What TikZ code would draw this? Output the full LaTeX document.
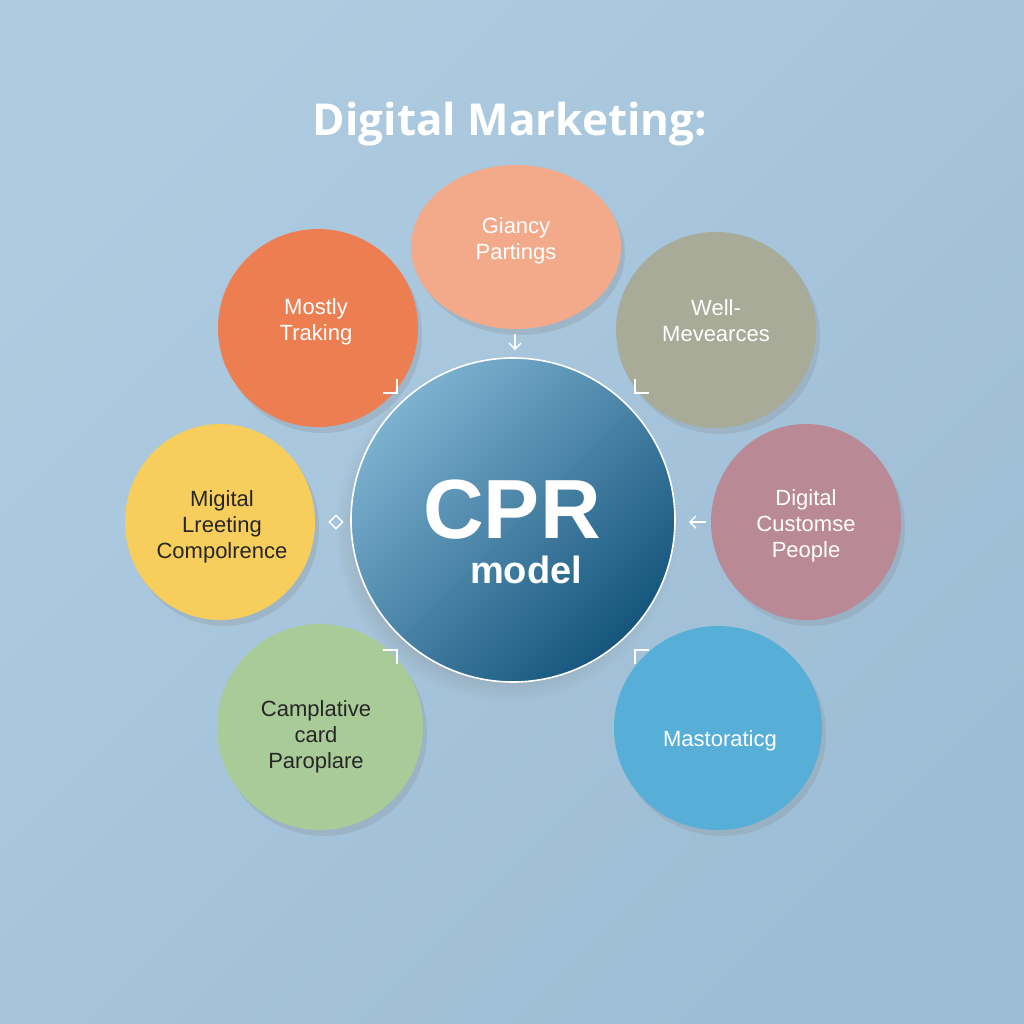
\documentclass[tikz,border=0pt]{standalone}
\usepackage{fontspec}
\setmainfont{Liberation Sans}
\newfontfamily\titlefont{Open Sans}
\usetikzlibrary{arrows.meta,positioning,shapes.geometric,shadows}

\definecolor{bgLight}{HTML}{AECBE0}
\definecolor{bgDark}{HTML}{9DBDD6}
\definecolor{peach}{HTML}{F2AA8A}
\definecolor{coral}{HTML}{EC7E52}
\definecolor{sage}{HTML}{A8AB98}
\definecolor{sun}{HTML}{F7CE5B}
\definecolor{mauve}{HTML}{B98A96}
\definecolor{mint}{HTML}{A8CB98}
\definecolor{sky}{HTML}{57AFD8}
\definecolor{cprLight}{HTML}{7DB1D0}
\definecolor{cprMid}{HTML}{3576A0}
\definecolor{cprDark}{HTML}{15557C}

\begin{document}
\begin{tikzpicture}[x=0.5pt,y=-0.5pt,
  blob/.style={ellipse, inner sep=0pt,
    drop shadow={opacity=0.22, shadow xshift=2pt, shadow yshift=-3pt}},
  blobtext/.style={align=center, text=white, font=\fontsize{11}{13}\selectfont},
  darktext/.style={text=black!85},
  tick/.style={draw=white, line width=0.7pt}]
  % background
  \useasboundingbox (0,0) rectangle (1024,1024);
  \shade[top color=bgLight, bottom color=bgDark, shading angle=45] (0,0) rectangle (1024,1024);
  % title
  \node[font=\titlefont\bfseries\fontsize{22}{26}\selectfont, text=white] (title) at (510,124) {Digital Marketing:};
  % centre circle
  \node[circle, minimum size=162pt, draw=white, line width=0.8pt,
    top color=cprLight, middle color=cprMid, bottom color=cprDark, shading angle=45,
    circular drop shadow={opacity=0.3, shadow scale=1.06, shadow xshift=-3pt, shadow yshift=-5pt}] (cpr) at (513,520) {};
  \node[font=\bfseries\fontsize{42}{46}\selectfont, text=white, inner sep=1pt] (cprtxt) at (512,510) {CPR};
  \node[font=\bfseries\fontsize{19}{22}\selectfont, text=white, inner sep=1pt] (model) at (526,570) {model};
  % outer blobs
  \node[blob, fill=peach, minimum width=105pt, minimum height=82pt] (giancy) at (516,247) {};
  \node[blob, fill=coral, minimum width=100pt, minimum height=99pt] (mostly) at (318,328) {};
  \node[blob, fill=sage, minimum width=100pt, minimum height=98pt] (well) at (716,330) {};
  \node[blob, fill=sun, minimum width=95pt, minimum height=98pt] (migital) at (220,522) {};
  \node[blob, fill=mauve, minimum width=95pt, minimum height=98pt] (digital) at (806,522) {};
  \node[blob, fill=mint, minimum width=103pt, minimum height=103pt] (camplative) at (320,727) {};
  \node[blob, fill=sky, minimum width=104pt, minimum height=102pt] (mastoratic) at (718,728) {};
  % blob labels
  \node[blobtext] (giancytxt) at (516,241) {Giancy\\Partings};
  \node[blobtext] (mostlytxt) at (316,322) {Mostly\\Traking};
  \node[blobtext] (welltxt) at (716,321) {Well-\\Mevearces};
  \node[blobtext, darktext] (migitaltxt) at (222,527) {Migital\\Lreeting\\Compolrence};
  \node[blobtext] (digitaltxt) at (806,526) {Digital\\Customse\\People};
  \node[blobtext, darktext] (camplativetxt) at (316,737) {Camplative\\card\\Paroplare};
  \node[blobtext] (mastoratictxt) at (720,741) {Mastoraticg};
  % small marks round the circle
  \coordinate (topmark) at (515,334);
  \coordinate (rightmark) at (706,522);
  \draw[tick, -{Straight Barb[length=3pt,width=6pt]}] (topmark) -- ++(0,16);
  \draw[tick, -{Straight Barb[length=3pt,width=6pt]}] (rightmark) -- ++(-17,0);
  \node[diamond, draw=white, line width=0.7pt, inner sep=0pt, minimum size=7pt] (dia) at (336,522) {};
  \draw[tick] (383,393) -- (397,393) -- (397,379);
  \draw[tick] (635,379) -- (635,393) -- (649,393);
  \draw[tick] (383,650) -- (397,650) -- (397,664);
  \draw[tick] (649,650) -- (635,650) -- (635,664);
\end{tikzpicture}
\end{document}
